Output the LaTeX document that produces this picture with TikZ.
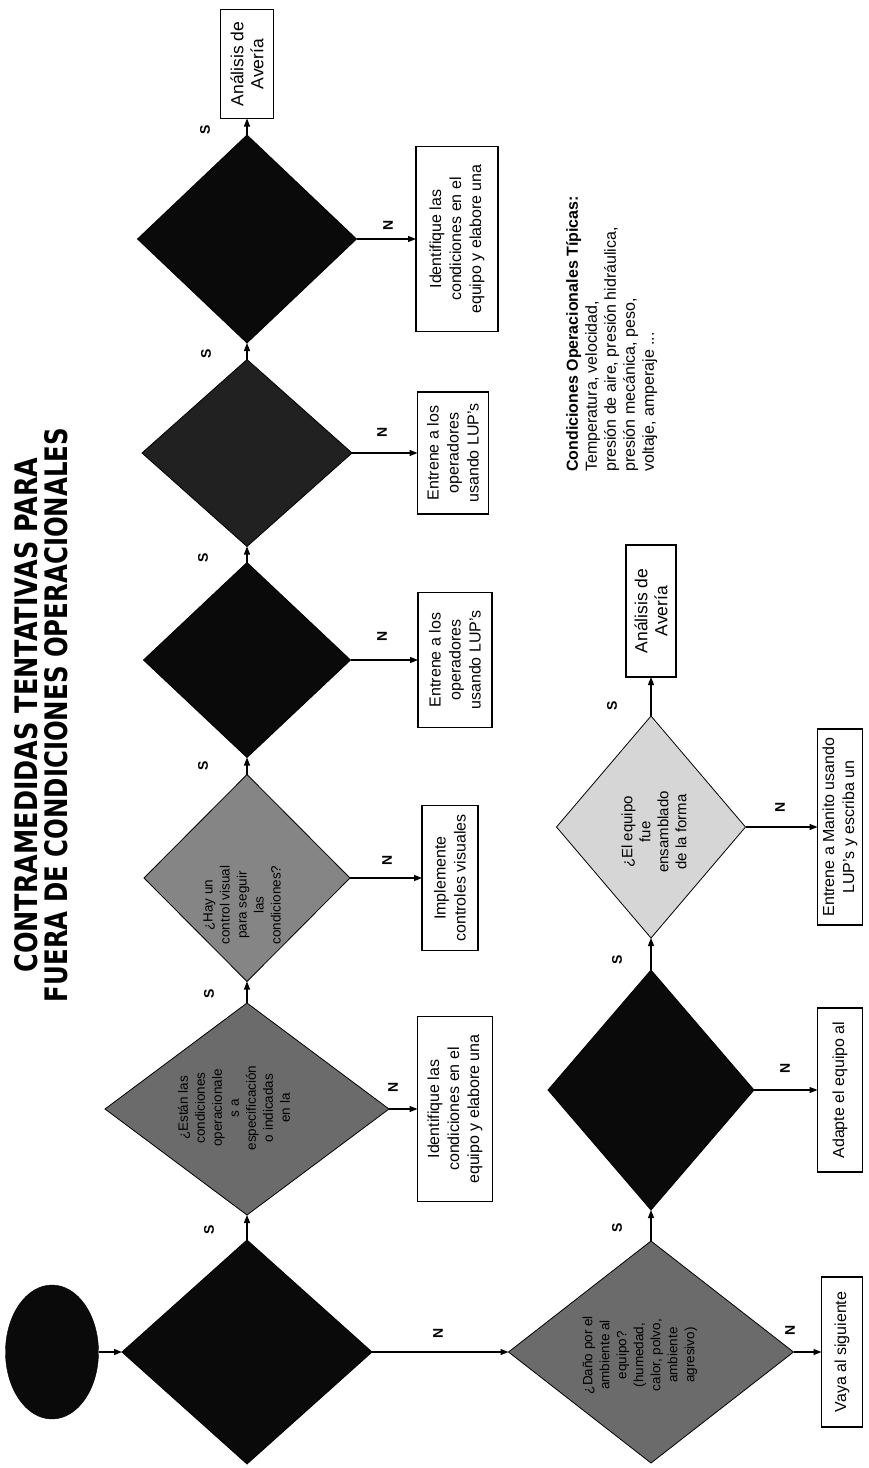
\documentclass[tikz,border=0pt]{standalone}
\usepackage{graphicx}
\usepackage{fontspec}
\setmainfont{Liberation Sans}
\newfontfamily\headfont{DejaVu Sans}
\usetikzlibrary{shapes.geometric,arrows.meta}

\definecolor{ink}{gray}{0.04}
\definecolor{darkfill}{gray}{0.13}
\definecolor{midfill}{gray}{0.42}
\definecolor{softfill}{gray}{0.52}
\definecolor{palefill}{gray}{0.84}

\begin{document}
\begin{tikzpicture}[x=1pt,y=-1pt,
  every node/.style={rotate=90},
  dia/.style={diamond, draw=black, line width=0.8pt, inner sep=0pt, outer sep=0pt},
  box/.style={rectangle, draw=black, line width=1.3pt, fill=white, inner sep=0pt,
    outer sep=0pt, align=center, font=\fontsize{16}{20}\selectfont},
  bigbox/.style={box, font=\fontsize{17.5}{20}\selectfont},
  startnode/.style={ellipse, draw=black, fill=ink, inner sep=0pt,
    minimum width=134pt, minimum height=93pt},
  flow/.style={line width=1.1pt, -{Triangle[length=8pt,width=6pt]}},
  yn/.style={font=\bfseries\fontsize{14}{14}\selectfont, inner sep=0pt},
  qtext/.style={align=center, inner sep=0pt, font=\fontsize{13.5}{17}\selectfont},
  headline/.style={inner sep=0pt, font=\headfont\bfseries},
  note/.style={align=left, inner sep=0pt, anchor=north west,
    font=\fontsize{16}{19}\selectfont}]

\path[use as bounding box] (0,0) rectangle (869,1468);

% heading
\node[headline] (h1) at (26,715) {\resizebox{515pt}{23pt}{CONTRAMEDIDAS TENTATIVAS PARA}};
\node[headline] (h2) at (56,715) {\resizebox{574pt}{23pt}{FUERA DE CONDICIONES OPERACIONALES}};

% start
\node[startnode] (start) at (52,1352) {};

% first chain of decisions
\node[dia, fill=ink,      minimum width=224pt, minimum height=250pt] (d1) at (247,1352) {};
\node[dia, fill=midfill,  minimum width=212pt, minimum height=284pt] (d2) at (247,1109) {};
\node[dia, fill=softfill, minimum width=207pt, minimum height=206pt] (d3) at (247,878) {};
\node[dia, fill=ink,      minimum width=195pt, minimum height=207pt] (d4) at (247,660) {};
\node[dia, fill=darkfill, minimum width=187pt, minimum height=210pt] (d5) at (247,453) {};
\node[dia, fill=ink,      minimum width=208pt, minimum height=219pt] (d6) at (247,239) {};
\node[bigbox, minimum width=109pt, minimum height=53pt] (b5) at (247,64) {Análisis de\\Avería};

\node[qtext] (q2) at (234,1108) {¿Están las\\condiciones\\operacionale\\s a\\especificación\\o indicadas\\en la};
\node[qtext] (q3) at (242,905) {¿Hay un\\control visual\\para seguir\\las\\condiciones?};

% actions of the first chain
\node[box, minimum width=185pt, minimum height=75pt] (b1) at (455,1109) {Identifique las\\condiciones en el\\equipo y elabore una};
\node[box, minimum width=145pt, minimum height=56pt] (b2) at (450,878) {Implemente\\controles visuales};
\node[box, minimum width=135pt, minimum height=74pt] (b3) at (455,660) {Entrene a los\\operadores\\usando LUP's};
\node[box, minimum width=122pt, minimum height=71pt] (b4) at (453,453) {Entrene a los\\operadores\\usando LUP's};
\node[box, minimum width=185pt, minimum height=82pt] (b6) at (457,239) {Identifique las\\condiciones en el\\equipo y elabore una};

% second chain of decisions
\node[dia, fill=midfill,  minimum width=222pt, minimum height=285pt] (d7) at (651,1352) {};
\node[dia, fill=ink,      minimum width=240pt, minimum height=206pt] (d8) at (651,1090) {};
\node[dia, fill=palefill, minimum width=222pt, minimum height=189pt] (d9) at (651,827) {};
\node[bigbox, minimum width=132pt, minimum height=50pt] (b10) at (651,611) {Análisis de\\Avería};

\node[qtext] (q7) at (640,1355) {¿Daño por el\\ambiente al\\equipo?\\(humedad,\\calor, polvo,\\ambiente\\agresivo)};
\node[qtext, font=\fontsize{15}{18}\selectfont] (q9) at (654,832) {¿El equipo\\fue\\ensamblado\\de la forma};

% actions of the second chain
\node[box, minimum width=150pt, minimum height=41pt] (b7) at (842,1352) {Vaya al siguiente};
\node[box, minimum width=164pt, minimum height=45pt] (b8) at (840,1090) {Adapte el equipo al};
\node[box, minimum width=196pt, minimum height=45pt] (b9) at (840,827) {Entrene a Manito usando\\LUP's y escriba un};

% typical conditions
\node[note] (cond) at (566,472) {\textbf{Condiciones Operacionales Típicas:}\\Temperatura, velocidad,\\presión de aire, presión hidráulica,\\presión mecánica, peso,\\voltaje, amperaje ...};

% connectors
\draw[flow] (start.south) -- (d1.north);
\draw[flow] (d1.east) -- (d2.west);
\draw[flow] (d2.east) -- (d3.west);
\draw[flow] (d3.east) -- (d4.west);
\draw[flow] (d4.east) -- (d5.west);
\draw[flow] (d5.east) -- (d6.west);
\draw[flow] (d6.east) -- (b5.west);
\draw[flow] (d2.south) -- (b1.north);
\draw[flow] (d3.south) -- (b2.north);
\draw[flow] (d4.south) -- (b3.north);
\draw[flow] (d5.south) -- (b4.north);
\draw[flow] (d6.south) -- (b6.north);
\draw[flow] (d1.south) -- (d7.north);
\draw[flow] (d7.east) -- (d8.west);
\draw[flow] (d8.east) -- (d9.west);
\draw[flow] (d9.east) -- (b10.west);
\draw[flow] (d7.south) -- (b7.north);
\draw[flow] (d8.south) -- (b8.north);
\draw[flow] (d9.south) -- (b9.north);

% yes / no marks
\node[yn] (s1) at (209,1230) {S};
\node[yn] (s2) at (209,994) {S};
\node[yn] (s3) at (203,766) {S};
\node[yn] (s4) at (203,558) {S};
\node[yn] (s5) at (206,354) {S};
\node[yn] (s6) at (205,130) {S};
\node[yn] (s7) at (617,1228) {S};
\node[yn] (s8) at (617,960) {S};
\node[yn] (s9) at (612,706) {S};
\node[yn] (n1) at (438,1333) {N};
\node[yn] (n2) at (393,1087) {N};
\node[yn] (n3) at (387,860) {N};
\node[yn] (n4) at (382,636) {N};
\node[yn] (n5) at (382,432) {N};
\node[yn] (n6) at (388,225) {N};
\node[yn] (n7) at (790,1330) {N};
\node[yn] (n8) at (785,1068) {N};
\node[yn] (n9) at (780,807) {N};
\end{tikzpicture}
\end{document}
